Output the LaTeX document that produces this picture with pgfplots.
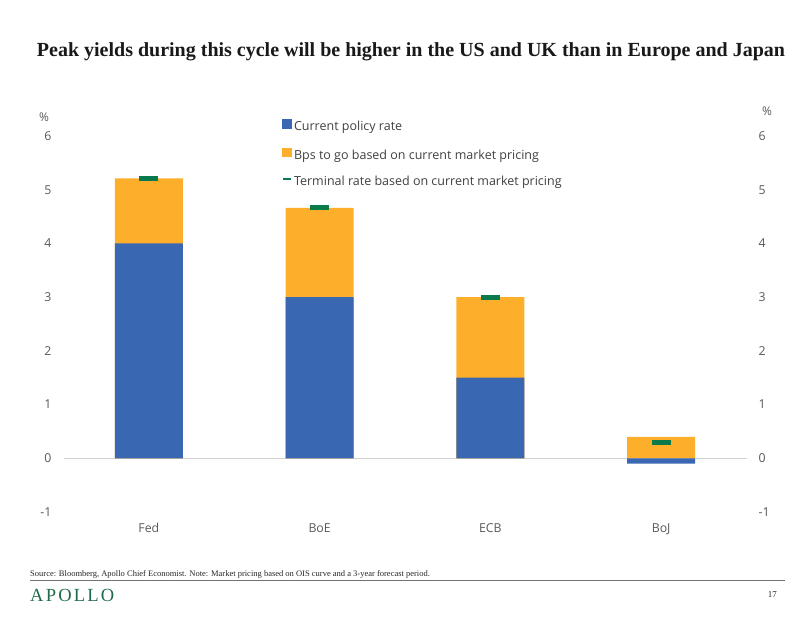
\documentclass[border=0pt]{standalone}
\usepackage{pgfplots}
\usepackage{pgfplotstable}
\pgfplotsset{compat=1.18}
\usepackage{fontspec}
\setmainfont{Liberation Serif}
\newfontfamily\uifont{Open Sans}

\definecolor{cblue}{HTML}{3A67B1}
\definecolor{corange}{HTML}{FDAE2B}
\definecolor{cgreen}{HTML}{0A7A4C}
\definecolor{ctick}{HTML}{595959}
\definecolor{ctext}{HTML}{404040}
\definecolor{apollo}{HTML}{1F6B4A}

% policy rate, top of the bar (policy + bps to go), terminal rate
\pgfplotstableread{
x policy total terminal
0 4.00 5.21 5.21
1 3.00 4.66 4.66
2 1.50 3.00 3.00
3 -0.10 0.40 0.30
}\ratedata

\begin{document}
\begin{tikzpicture}
\path[use as bounding box] (0pt,0pt) rectangle (806pt,623pt);

\node[font=\fontsize{20}{23}\selectfont\bfseries, text=black!90] at (411pt,571pt)
  {Peak yields during this cycle will be higher in the US and UK than in Europe and Japan};

\begin{axis}[
  at={(63.5pt,111pt)}, anchor=south west,
  scale only axis, width=683pt, height=376pt,
  xmin=-0.5, xmax=3.5, ymin=-1, ymax=6,
  axis line style={draw=none},
  major tick length=0pt,
  xtick={0,1,2,3},
  xticklabels={Fed,BoE,ECB,BoJ},
  ytick={-1,0,...,6},
  extra y ticks={0},
  extra y tick labels={},
  extra y tick style={grid=major, major grid style={draw=black!18, line width=0.8pt}},
  ticklabel style={font=\uifont\fontsize{12.3}{14}\selectfont, text=ctick},
  yticklabel style={inner sep=0pt, xshift=-12pt},
  xticklabel style={inner sep=0pt, yshift=-11pt, text height=9pt, text depth=3pt},
  /pgf/number format/assume math mode=true,
  legend style={draw=none, fill=none, at={(0.32,1.045)}, anchor=north west,
    font=\uifont\fontsize{12.5}{14}\selectfont, text=ctext,
    row sep=14.5pt, inner sep=0pt,
    nodes={inner sep=0pt, text height=9pt, text depth=3pt}},
  legend cell align=left,
]
\addplot[ybar, bar width=68pt, bar shift=0pt, fill=corange, draw=none, forget plot]
  table[x=x, y=total] {\ratedata};
\addplot[ybar, bar width=68pt, bar shift=0pt, fill=cblue, draw=none, forget plot]
  table[x=x, y=policy] {\ratedata};
\addplot[only marks, mark=-, mark size=9.5pt,
  mark options={draw=cgreen, line width=5pt}, forget plot]
  table[x=x, y=terminal] {\ratedata};

\addlegendimage{legend image code/.code={\fill[cblue, draw=none] (0pt,-1pt) rectangle (9.3pt,8.3pt);}}
\addlegendentry{\hspace{2.5pt}Current policy rate}
\addlegendimage{legend image code/.code={\fill[corange, draw=none] (0pt,-1pt) rectangle (9.3pt,8.3pt);}}
\addlegendentry{\hspace{2.5pt}Bps to go based on current market pricing}
\addlegendimage{legend image code/.code={\fill[cgreen, draw=none] (0.8pt,2.6pt) rectangle (8.5pt,4.6pt);}}
\addlegendentry{\hspace{2.5pt}Terminal rate based on current market pricing}
\end{axis}

\begin{axis}[
  at={(63.5pt,111pt)}, anchor=south west,
  scale only axis, width=683pt, height=376pt,
  xmin=-0.5, xmax=3.5, ymin=-1, ymax=6,
  axis line style={draw=none},
  major tick length=0pt,
  xtick=\empty,
  ytick={-1,0,...,6},
  yticklabel pos=right,
  ticklabel style={font=\uifont\fontsize{12.3}{14}\selectfont, text=ctick},
  yticklabel style={inner sep=0pt, xshift=12pt},
  /pgf/number format/assume math mode=true,
]
\addplot[draw=none, forget plot] coordinates {(0,0)};
\end{axis}

\node[font=\uifont\fontsize{12}{14}\selectfont, text=ctick] at (44pt,506pt) {\%};
\node[font=\uifont\fontsize{12}{14}\selectfont, text=ctick] at (767pt,512pt) {\%};

\node[anchor=west, inner sep=0pt, font=\fontsize{8.5}{10}\selectfont, text=black!85] at (30pt,49pt)
  {Source: Bloomberg, Apollo Chief Economist. Note: Market pricing based on OIS curve and a 3-year forecast period.};
\draw[black!55, line width=0.8pt] (30pt,43pt) -- (785pt,43pt);
\node[anchor=west, inner sep=0pt, font=\fontsize{18.5}{20}\selectfont\addfontfeatures{LetterSpace=12}, text=apollo] at (30pt,28pt) {APOLLO};
\node[anchor=east, inner sep=0pt, font=\fontsize{9}{11}\selectfont, text=black!85] at (777pt,28pt) {17};
\end{tikzpicture}
\end{document}
